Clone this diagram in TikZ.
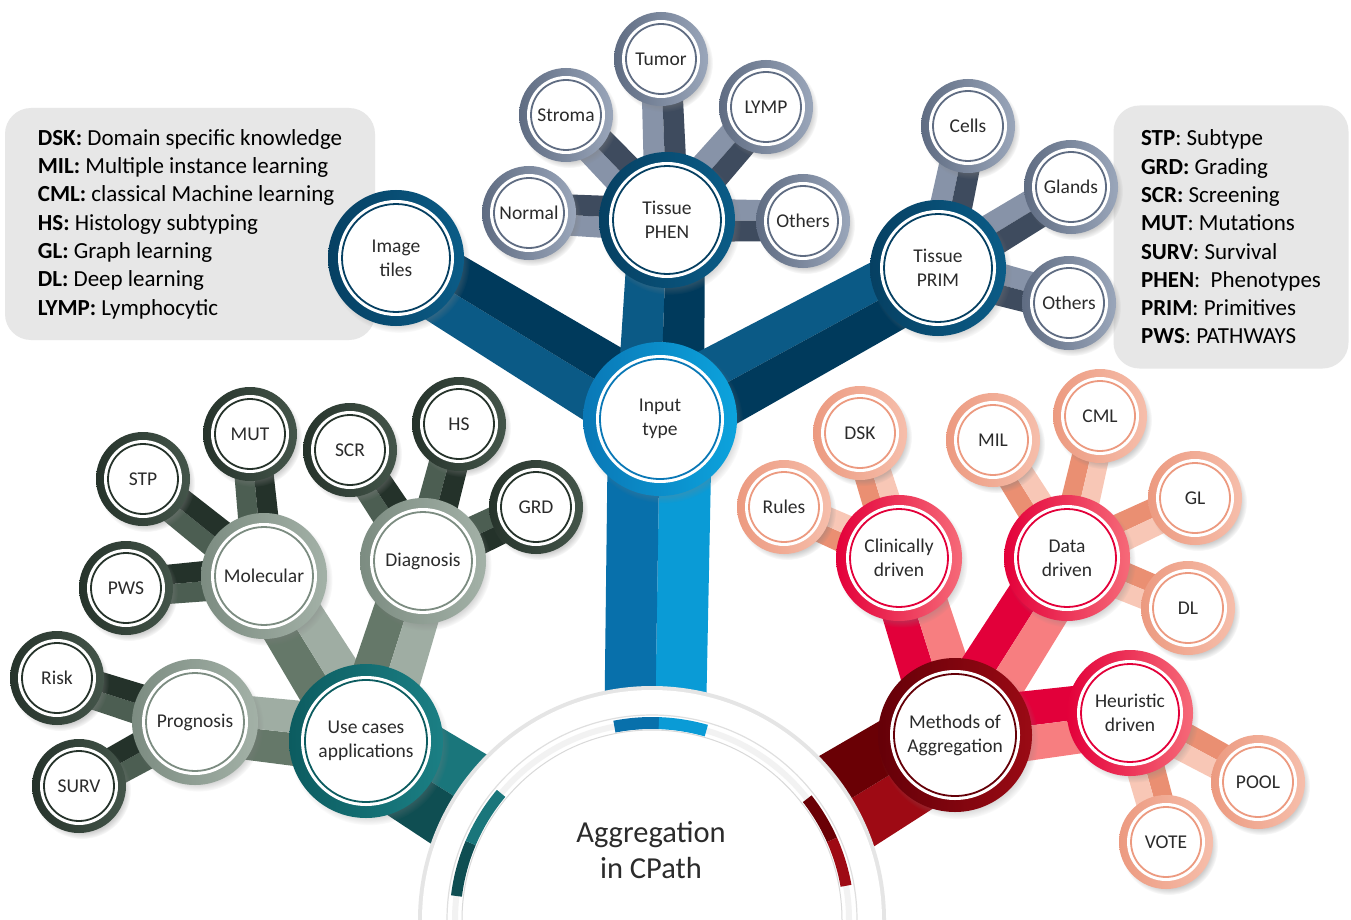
\documentclass[tikz,border=0pt]{standalone}
\usepackage{fontspec}
\setmainfont{Carlito}
\usepackage{tikz}
\usetikzlibrary{calc, shadows, backgrounds}

\definecolor{inkgray}{HTML}{2B2B2B}
\definecolor{keygray}{HTML}{E7E7E7}
% input branch
\definecolor{blueHubL}{HTML}{0A78B6}
\definecolor{blueHubR}{HTML}{0CA3DD}
\definecolor{blueStemDk}{HTML}{0870AB}
\definecolor{blueStemLt}{HTML}{0A9BD6}
\definecolor{blueMidL}{HTML}{064062}
\definecolor{blueMidR}{HTML}{0B5C87}
\definecolor{blueBarDk}{HTML}{003A5C}
\definecolor{blueBarLt}{HTML}{0B5A86}
\definecolor{blueLeafL}{HTML}{5F6C82}
\definecolor{blueLeafR}{HTML}{9AA6BA}
\definecolor{blueTwigDk}{HTML}{3E4B5E}
\definecolor{blueTwigLt}{HTML}{8793A8}
% use-case branch
\definecolor{tealHubL}{HTML}{0C5C60}
\definecolor{tealHubR}{HTML}{1B7F84}
\definecolor{tealStemDk}{HTML}{0F4E52}
\definecolor{tealStemLt}{HTML}{1A767B}
\definecolor{greenMidL}{HTML}{7C8C81}
\definecolor{greenMidR}{HTML}{A3B1A7}
\definecolor{greenBarDk}{HTML}{657869}
\definecolor{greenBarLt}{HTML}{9FADA3}
\definecolor{greenLeafL}{HTML}{26332B}
\definecolor{greenLeafR}{HTML}{44554A}
\definecolor{greenTwigDk}{HTML}{24322A}
\definecolor{greenTwigLt}{HTML}{4C5E52}
% methods branch
\definecolor{redHubL}{HTML}{650008}
\definecolor{redHubR}{HTML}{9A0A14}
\definecolor{redStemDk}{HTML}{6A0005}
\definecolor{redStemLt}{HTML}{9E0A14}
\definecolor{redMidL}{HTML}{E3003A}
\definecolor{redMidR}{HTML}{F66A78}
\definecolor{redBarDk}{HTML}{E2003A}
\definecolor{redBarLt}{HTML}{F77E80}
\definecolor{redLeafL}{HTML}{EC9A80}
\definecolor{redLeafR}{HTML}{F6BEAB}
\definecolor{redTwigDk}{HTML}{EA8F72}
\definecolor{redTwigLt}{HTML}{F8C7B6}

% two-tone bar: from, to, half width at from, half width at to, left side, right side
\newcommand{\twobar}[6]{%
  \fill[#5] (#1.center) -- ($(#1.center)!#3!90:(#2.center)$) -- ($(#2.center)!#4!-90:(#1.center)$) -- (#2.center) -- cycle;
  \fill[#6] (#1.center) -- ($(#1.center)!#3!-90:(#2.center)$) -- ($(#2.center)!#4!90:(#1.center)$) -- (#2.center) -- cycle;}

\begin{document}
\begin{tikzpicture}[x=1pt, y=-1pt,
   ring/.style n args={4}{circle, inner sep=0pt, minimum size=#3, left color=#1, right color=#2,
               align=center, text=inkgray, font=\fontsize{19.5}{24}\selectfont,
               circular drop shadow={shadow xshift=3pt, shadow yshift=-4pt, shadow scale=1.04, opacity=.4},
               path picture={\fill[white] (path picture bounding box.center) circle[radius=#4];
                             \draw[#1, line width=1.8pt] (path picture bounding box.center) circle[radius=#4-4pt];}},
   hubB/.style={ring={blueHubL}{blueHubR}{154pt}{64pt}},
   midB/.style={ring={blueMidL}{blueMidR}{136pt}{58pt}},
   leafB/.style={ring={blueLeafL}{blueLeafR}{94pt}{39pt}},
   hubG/.style={ring={tealHubL}{tealHubR}{154pt}{65pt}},
   midG/.style={ring={greenMidL}{greenMidR}{126pt}{53pt}},
   leafG/.style={ring={greenLeafL}{greenLeafR}{94pt}{39pt}},
   hubR/.style={ring={redHubL}{redHubR}{154pt}{65pt}},
   midR/.style={ring={redMidL}{redMidR}{126pt}{53pt}},
   leafR/.style={ring={redLeafL}{redLeafR}{94pt}{39pt}},
   keybox/.style={fill=keygray, rounded corners=26pt, align=left, text=black,
                  font=\fontsize{23}{28.3}\selectfont}]
  \useasboundingbox (0,0) rectangle (1351,920);

  % abbreviation boxes
  \node[keybox, minimum width=370pt, minimum height=232pt] (keyL) at (190,224)
    {\textbf{DSK:} Domain specific knowledge\\\textbf{MIL:} Multiple instance learning\\
     \textbf{CML:} classical Machine learning\\\textbf{HS:} Histology subtyping\\
     \textbf{GL:} Graph learning\\\textbf{DL:} Deep learning\\\textbf{LYMP:} Lymphocytic};
  \node[keybox, minimum width=235pt, minimum height=263pt] (keyR) at (1231,237)
    {\textbf{STP}: Subtype\\\textbf{GRD:} Grading\\\textbf{SCR:} Screening\\\textbf{MUT}: Mutations\\
     \textbf{SURV}: Survival\\\textbf{PHEN}:~~Phenotypes\\\textbf{PRIM}: Primitives\\\textbf{PWS}: PATHWAYS};

  % half disc at the root
  \coordinate (ctr) at (652,920);
  \fill[gray!20] (ctr) ++(180:234) arc[start angle=180, end angle=360, radius=234] -- cycle;
  \fill[white] (ctr) ++(180:230) arc[start angle=180, end angle=360, radius=230] -- cycle;
  \draw[gray!25, line width=1.2pt] (ctr) ++(180:205) arc[start angle=180, end angle=360, radius=205];
  \draw[gray!10, line width=6pt] (ctr) ++(180:197) arc[start angle=180, end angle=360, radius=197];
  \draw[tealStemDk, line width=11pt] (ctr) ++(187:197) arc[start angle=187, end angle=203, radius=197];
  \draw[tealStemLt, line width=11pt] (ctr) ++(203:197) arc[start angle=203, end angle=220, radius=197];
  \draw[blueStemDk, line width=12pt] (ctr) ++(259:197) arc[start angle=259, end angle=272, radius=197];
  \draw[blueStemLt, line width=12pt] (ctr) ++(272:197) arc[start angle=272, end angle=286, radius=197];
  \draw[redStemDk, line width=11pt] (ctr) ++(322:197) arc[start angle=322, end angle=336, radius=197];
  \draw[redStemLt, line width=11pt] (ctr) ++(336:197) arc[start angle=336, end angle=350, radius=197];
  \draw[gray!30, line width=1pt] (ctr) ++(180:190) arc[start angle=180, end angle=360, radius=190];
  \node[font=\fontsize{30.5}{36}\selectfont, text=inkgray, align=center] (agg) at (651,850) {Aggregation\\in CPath};

  % input type
  \node[hubB] (input) at (660,419) {Input\\type};
  \node[midB] (tiles) at (396,258) {Image\\tiles};
  \node[midB] (phen) at (667,220) {Tissue\\PHEN};
  \node[midB] (prim) at (938,268) {Tissue\\PRIM};
  \node[leafB] (normal) at (529,213) {Normal};
  \node[leafB] (stroma) at (566,115) {Stroma};
  \node[leafB] (tumor) at (661,59) {Tumor};
  \node[leafB] (lymp) at (766,107) {LYMP};
  \node[leafB] (othA) at (803,221) {Others};
  \node[leafB] (cells) at (968,126) {Cells};
  \node[leafB] (glands) at (1071,187) {Glands};
  \node[leafB] (othB) at (1069,303) {Others};

  % use cases
  \node[hubG] (uses) at (366,741) {Use cases\\applications};
  \node[midG] (prog) at (195,722) {Prognosis};
  \node[midG] (molec) at (264,576) {Molecular};
  \node[midG] (diag) at (423,561) {Diagnosis};
  \node[leafG] (risk) at (57,678) {Risk};
  \node[leafG] (surv) at (79,786) {SURV};
  \node[leafG] (pws) at (126,588) {PWS};
  \node[leafG] (stp) at (143,479) {STP};
  \node[leafG] (mut) at (250,434) {MUT};
  \node[leafG] (scr) at (350,450) {SCR};
  \node[leafG] (hs) at (459,424) {HS};
  \node[leafG] (grd) at (536,507) {GRD};

  % methods of aggregation
  \node[hubR] (meth) at (955,735) {Methods of\\Aggregation};
  \node[midR] (clin) at (899,558) {Clinically\\driven};
  \node[midR] (data) at (1067,558) {Data\\driven};
  \node[midR] (heur) at (1130,713) {Heuristic\\driven};
  \node[leafR] (rules) at (784,507) {Rules};
  \node[leafR] (dsk) at (860,433) {DSK};
  \node[leafR] (mil) at (993,440) {MIL};
  \node[leafR] (cml) at (1100,416) {CML};
  \node[leafR] (gl) at (1195,498) {GL};
  \node[leafR] (dl) at (1188,608) {DL};
  \node[leafR] (pool) at (1258,782) {POOL};
  \node[leafR] (vote) at (1166,842) {VOTE};

  \begin{scope}[on background layer]
    \fill[white] (0,0) rectangle (1351,920);
    % stems into the half disc
    \twobar{input}{ctr}{52pt}{50pt}{blueStemLt}{blueStemDk}
    \twobar{uses}{ctr}{50pt}{58pt}{tealStemLt}{tealStemDk}
    \twobar{meth}{ctr}{50pt}{58pt}{redStemLt}{redStemDk}
    % branches
    \twobar{input}{tiles}{42pt}{36pt}{blueBarLt}{blueBarDk}
    \twobar{input}{phen}{44pt}{38pt}{blueBarLt}{blueBarDk}
    \twobar{input}{prim}{42pt}{36pt}{blueBarLt}{blueBarDk}
    \twobar{uses}{prog}{34pt}{31pt}{greenBarDk}{greenBarLt}
    \twobar{uses}{molec}{36pt}{32pt}{greenBarDk}{greenBarLt}
    \twobar{uses}{diag}{36pt}{32pt}{greenBarDk}{greenBarLt}
    \twobar{meth}{clin}{36pt}{33pt}{redBarDk}{redBarLt}
    \twobar{meth}{data}{36pt}{33pt}{redBarDk}{redBarLt}
    \twobar{meth}{heur}{36pt}{33pt}{redBarDk}{redBarLt}
    % twigs
    \twobar{phen}{normal}{22pt}{20pt}{blueTwigLt}{blueTwigDk}
    \twobar{phen}{stroma}{22pt}{20pt}{blueTwigLt}{blueTwigDk}
    \twobar{phen}{tumor}{22pt}{20pt}{blueTwigLt}{blueTwigDk}
    \twobar{phen}{lymp}{22pt}{20pt}{blueTwigLt}{blueTwigDk}
    \twobar{phen}{othA}{22pt}{20pt}{blueTwigLt}{blueTwigDk}
    \twobar{prim}{cells}{22pt}{20pt}{blueTwigLt}{blueTwigDk}
    \twobar{prim}{glands}{22pt}{20pt}{blueTwigLt}{blueTwigDk}
    \twobar{prim}{othB}{22pt}{20pt}{blueTwigLt}{blueTwigDk}
    \twobar{prog}{risk}{21pt}{19pt}{greenTwigLt}{greenTwigDk}
    \twobar{prog}{surv}{21pt}{19pt}{greenTwigLt}{greenTwigDk}
    \twobar{molec}{pws}{21pt}{19pt}{greenTwigLt}{greenTwigDk}
    \twobar{molec}{stp}{21pt}{19pt}{greenTwigLt}{greenTwigDk}
    \twobar{molec}{mut}{21pt}{19pt}{greenTwigLt}{greenTwigDk}
    \twobar{diag}{scr}{21pt}{19pt}{greenTwigLt}{greenTwigDk}
    \twobar{diag}{hs}{21pt}{19pt}{greenTwigLt}{greenTwigDk}
    \twobar{diag}{grd}{21pt}{19pt}{greenTwigLt}{greenTwigDk}
    \twobar{clin}{rules}{20pt}{18pt}{redTwigDk}{redTwigLt}
    \twobar{clin}{dsk}{20pt}{18pt}{redTwigDk}{redTwigLt}
    \twobar{data}{mil}{20pt}{18pt}{redTwigDk}{redTwigLt}
    \twobar{data}{cml}{20pt}{18pt}{redTwigDk}{redTwigLt}
    \twobar{data}{gl}{20pt}{18pt}{redTwigDk}{redTwigLt}
    \twobar{data}{dl}{20pt}{18pt}{redTwigDk}{redTwigLt}
    \twobar{heur}{pool}{20pt}{18pt}{redTwigDk}{redTwigLt}
    \twobar{heur}{vote}{20pt}{18pt}{redTwigDk}{redTwigLt}
  \end{scope}
\end{tikzpicture}
\end{document}
